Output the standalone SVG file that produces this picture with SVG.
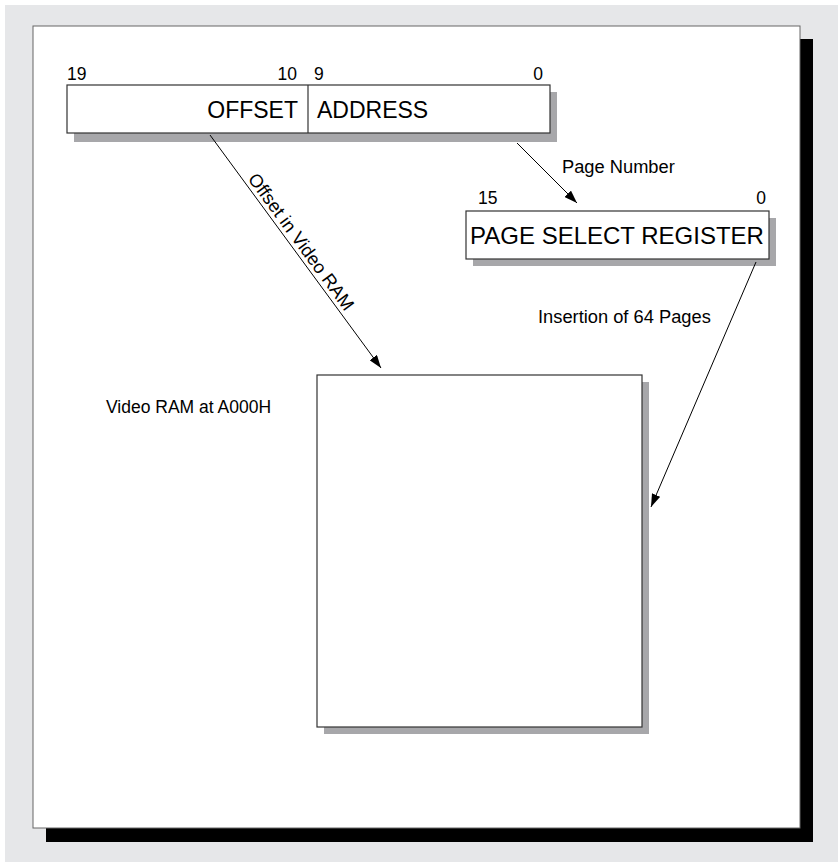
<svg xmlns="http://www.w3.org/2000/svg" width="838" height="862" viewBox="0 0 838 862">
<style>
text{font-family:"Liberation Sans",Arial,sans-serif;fill:#000}
.lbl{font-size:17.5px}
.lbl2{font-size:18.3px}
.big{font-size:23px}
.box{fill:#fff;stroke:#333;stroke-width:1.2}
.sh{fill:#a7a7aa}
.con{stroke:#000;stroke-width:1;fill:none;marker-end:url(#ah)}
</style>
<defs>
<marker id="ah" viewBox="0 0 13 9" refX="13" refY="4.5" markerWidth="13" markerHeight="9" markerUnits="userSpaceOnUse" orient="auto">
<path d="M0,0 L13,4.5 L0,9 Z" fill="#000"/>
</marker>
</defs>
<rect x="5" y="5" width="833" height="857" fill="#e6e7e9"/>
<rect x="46" y="39" width="767" height="803" fill="#000"/>
<rect x="33" y="26" width="767" height="802" fill="#fff" stroke="#666" stroke-width="1"/>
<g id="offset-address">
<rect class="sh" x="74" y="92" width="483" height="50"/>
<rect class="box" x="67" y="85" width="483" height="48"/>
<line x1="308" y1="85" x2="308" y2="133" stroke="#333" stroke-width="1.2"/>
<text class="big" x="298" y="118" text-anchor="end">OFFSET</text>
<text class="big" x="317" y="118">ADDRESS</text>
<text class="lbl" x="67" y="80">19</text>
<text class="lbl" x="297" y="80" text-anchor="end">10</text>
<text class="lbl" x="314" y="80">9</text>
<text class="lbl" x="543" y="80" text-anchor="end">0</text>
</g>
<g id="page-select-register">
<rect class="sh" x="473" y="218" width="303" height="48"/>
<rect class="box" x="466" y="211" width="303" height="48"/>
<text x="617" y="244" text-anchor="middle" style="font-size:24px">PAGE SELECT REGISTER</text>
<text class="lbl" x="478" y="204">15</text>
<text class="lbl" x="766" y="204" text-anchor="end">0</text>
</g>
<g id="video-ram">
<rect class="sh" x="324" y="382" width="325" height="352"/>
<rect class="box" x="317" y="375" width="325" height="352"/>
<text class="lbl" x="106" y="413">Video RAM at A000H</text>
</g>
<g id="connectors">
<line class="con" x1="210" y1="135" x2="381" y2="368"/>
<line class="con" x1="517" y1="143" x2="577" y2="203"/>
<line class="con" x1="756" y1="262" x2="651" y2="507"/>
<text class="lbl2" transform="translate(210,135) rotate(53.7)" x="140" y="-4" text-anchor="middle">Offset in Video RAM</text>
<text class="lbl2" x="562" y="173">Page Number</text>
<text class="lbl2" x="538" y="323">Insertion of 64 Pages</text>
</g>
</svg>
